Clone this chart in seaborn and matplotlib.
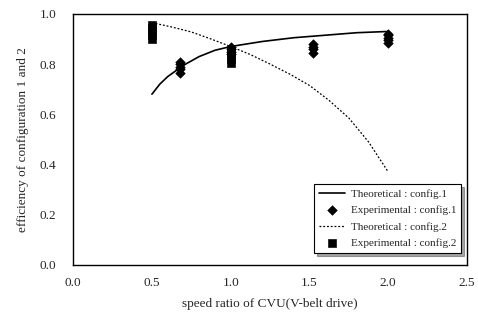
import matplotlib
matplotlib.use("Agg")
import matplotlib.pyplot as plt
import seaborn as sns

# theoretical curves
theo1_x = [0.5, 0.55, 0.6, 0.7, 0.8, 0.9, 1.0, 1.2, 1.4, 1.6, 1.8, 2.0]
theo1_y = [0.68, 0.72, 0.75, 0.795, 0.83, 0.855, 0.87, 0.89, 0.905, 0.915, 0.925, 0.93]
theo2_x = [0.5, 0.625, 0.75, 0.875, 1.0, 1.125, 1.25, 1.375, 1.5, 1.625, 1.75, 1.875, 2.0]
theo2_y = [0.965, 0.948, 0.928, 0.90, 0.87, 0.838, 0.80, 0.76, 0.715, 0.655, 0.585, 0.49, 0.37]

# experimental points
exp1_x = [0.68] * 5 + [1.0] * 4 + [1.52] * 4 + [2.0] * 5
exp1_y = [0.765, 0.78, 0.79, 0.80, 0.81,
          0.84, 0.85, 0.86, 0.87,
          0.845, 0.86, 0.87, 0.88,
          0.885, 0.895, 0.905, 0.915, 0.92]
exp2_x = [0.5] * 5 + [1.0] * 4
exp2_y = [0.90, 0.915, 0.93, 0.945, 0.955,
          0.805, 0.82, 0.835, 0.85]

sns.set_style("white")
plt.rcParams['font.family'] = ['Liberation Serif', 'DejaVu Serif']

fig = plt.figure(figsize=(4.78, 3.23), dpi=100)
ax = fig.add_axes([0.153, 0.18, 0.824, 0.777])

sns.lineplot(x=theo1_x, y=theo1_y, ax=ax, color='black', lw=1.2,
             label='Theoretical : config.1')
sns.scatterplot(x=exp1_x, y=exp1_y, ax=ax, color='black', marker='D', s=24,
                edgecolor='black', label='Experimental : config.1')
sns.lineplot(x=theo2_x, y=theo2_y, ax=ax, color='black', lw=0.9,
             linestyle=(0, (1.5, 1.5)), label='Theoretical : config.2')
sns.scatterplot(x=exp2_x, y=exp2_y, ax=ax, color='black', marker='s', s=32,
                edgecolor='black', label='Experimental : config.2')

ax.set_xlim(0, 2.5)
ax.set_ylim(0, 1.0)
ax.set_xticks([0.0, 0.5, 1.0, 1.5, 2.0, 2.5])
ax.set_yticks([0.0, 0.2, 0.4, 0.6, 0.8, 1.0])
ax.set_xticklabels(['0.0', '0.5', '1.0', '1.5', '2.0', '2.5'])
ax.set_yticklabels(['0.0', '0.2', '0.4', '0.6', '0.8', '1.0'])
ax.tick_params(direction='in', length=3, width=0.8, labelsize=9.5)
ax.tick_params(axis='x', pad=9)
ax.tick_params(axis='y', pad=12)
for sp in ax.spines.values():
    sp.set_color('black')
    sp.set_linewidth(1.0)

ax.set_xlabel('speed ratio of CVU(V-belt drive)', fontsize=9.5, labelpad=6)
ax.set_ylabel('efficiency of configuration 1 and 2', fontsize=9.5, labelpad=8)

leg = ax.legend(loc='lower right', fontsize=8, frameon=True, fancybox=False,
                shadow=True, borderpad=0.45, handlelength=2.4, handletextpad=0.5,
                labelspacing=0.6, bbox_to_anchor=(1.0, 0.025))
leg.get_frame().set_edgecolor('black')
leg.get_frame().set_linewidth(0.8)

fig.savefig('out.png', dpi=100)
